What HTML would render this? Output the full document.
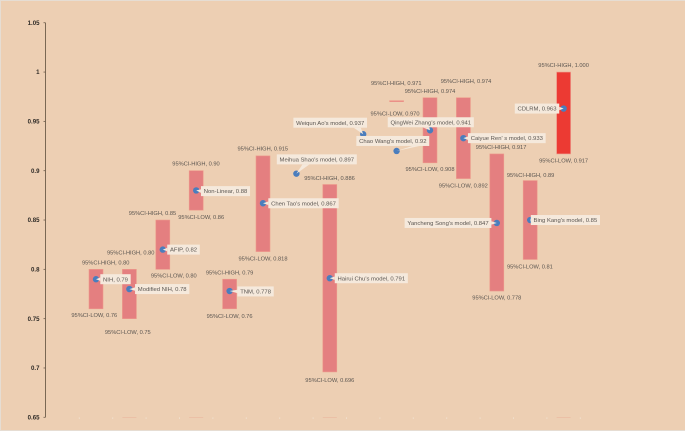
<!DOCTYPE html>
<html lang="en">
<head>
<meta charset="utf-8">
<title>Model performance with 95% CI</title>
<style>
  html, body { margin: 0; padding: 0; background: #edcfb3; }
  body { width: 685px; height: 431px; overflow: hidden; }
  svg { display: block; }
  text { font-family: "Liberation Sans", sans-serif; }
</style>
</head>
<body>
<svg id="chart" width="685" height="431" viewBox="0 0 685 431" xmlns="http://www.w3.org/2000/svg">
  <rect x="0" y="0" width="685" height="431" fill="#edcfb3"/>
  <rect x="0" y="0" width="685" height="1" fill="#e6ddd3"/>
  <rect x="0" y="0" width="1" height="431" fill="#e6ddd3"/>
  <rect x="0" y="430" width="685" height="1" fill="#e6ddd3"/>
</svg>
<script>
// ---- chart data ----
const categories = ["NIH", "Modified NIH", "AFIP", "Non-Linear", "TNM", "Chen Tao's model", "Meihua Shao's model", "Hairui Chu's model", "Weiqun Ao's model", "Chao Wang's model", "QingWei Zhang's model", "Caiyue Ren' s model", "Yancheng Song's model", "Bing Kang's model", "CDLRM"];
const scores = [0.79, 0.78, 0.82, 0.88, 0.778, 0.867, 0.897, 0.791, 0.937, 0.92, 0.941, 0.933, 0.847, 0.85, 0.963];
const ciHigh = [0.80, 0.80, 0.85, 0.90, 0.79, 0.915, null, 0.886, null, 0.971, 0.974, 0.974, 0.917, 0.89, 1.000];
const ciLow = [0.76, 0.75, 0.80, 0.86, 0.76, 0.818, null, 0.696, null, 0.970, 0.908, 0.892, 0.778, 0.81, 0.917];
const scoreDigits = [2, 2, 2, 2, 3, 3, 3, 3, 3, 2, 3, 3, 3, 2, 3];
const ciDigits = [2, 2, 2, 2, 2, 3, 3, 3, 3, 3, 3, 3, 3, 2, 3];
const yTicks = [0.65, 0.7, 0.75, 0.8, 0.85, 0.9, 0.95, 1, 1.05];
const yTickLabels = ["0.65", "0.7", "0.75", "0.8", "0.85", "0.9", "0.95", "1", "1.05"];

// ---- layout (label offsets relative to their marks, not data) ----
const calloutOffsets = {
  "NIH": [19.5, 0, 0], "Modified NIH": [32.8, 0, 0], "AFIP": [20.7, 0, 0], "Non-Linear": [29.3, 0.7, 0],
  "TNM": [26, 0.4, 0], "Chen Tao's model": [40.5, 0, 0], "Meihua Shao's model": [20.4, -14.3, -10.8],
  "Hairui Chu's model": [41.5, 0, 0], "Weiqun Ao's model": [-33, -11.5, 27], "Chao Wang's model": [-3.8, -10, 23],
  "QingWei Zhang's model": [0.8, -8, -5], "Caiyue Ren' s model": [43.4, 0, 0],
  "Yancheng Song's model": [-48.8, 0, 0], "Bing Kang's model": [35.2, 0, 0], "CDLRM": [-26.6, 0, 0]
};
const highLabelOffsets = {
  "NIH": [9.7, -6.6], "Modified NIH": [1.3, -16.6], "AFIP": [-10.3, -7], "Non-Linear": [-0.2, -7],
  "TNM": [0, -6.8], "Chen Tao's model": [-0.2, -7.5], "Hairui Chu's model": [-0.3, -6.5],
  "Chao Wang's model": [-0.3, -17.6], "QingWei Zhang's model": [0, -6.5], "Caiyue Ren' s model": [2.6, -16.8],
  "Yancheng Song's model": [4.3, -6.9], "Bing Kang's model": [0.4, -5.6], "CDLRM": [0, -7.3]
};
const lowLabelOffsets = {
  "NIH": [-1.7, 6.2], "Modified NIH": [-1.6, 13.3], "AFIP": [11, 6.4], "Non-Linear": [5, 6.8],
  "TNM": [0, 7.4], "Chen Tao's model": [0, 6.8], "Hairui Chu's model": [0, 8],
  "Chao Wang's model": [-1.6, 11.7], "QingWei Zhang's model": [0, 6.3], "Caiyue Ren' s model": [-0.1, 6.9],
  "Yancheng Song's model": [0, 6.7], "Bing Kang's model": [-0.3, 6.8], "CDLRM": [0, 6.6]
};
const faintBaseMarks = ["Modified NIH", "Non-Linear", "Hairui Chu's model", "CDLRM"];

// ---- axis functions ----
const svgNS = "http://www.w3.org/2000/svg";
const chart = document.getElementById("chart");
const axisLeft = 45.9, catStep = 33.4, barWidth = 14;
function yScale(v) { return 417.3 - (v - 0.65) * 986.4; }
function xCenter(i) { return axisLeft + (i + 1.5) * catStep; }
function slug(s) { return s.toLowerCase().replace(/[^a-z0-9]+/g, "-").replace(/^-|-$/g, ""); }
function make(tag, attrs) {
  const el = document.createElementNS(svgNS, tag);
  for (const k in attrs) el.setAttribute(k, attrs[k]);
  chart.appendChild(el);
  return el;
}
function label(str, cx, cy, anchor, size, fill, weight) {
  const t = make("text", { x: cx, y: cy + size * 0.35, "text-anchor": anchor, "font-size": size, fill: fill, "font-weight": weight || "normal" });
  t.textContent = str;
  return t;
}

// y axis
const axisLine = make("line", { x1: 45.5, x2: 45.5, y1: yScale(1.05), y2: yScale(0.65), stroke: "#6d5c4a", "stroke-width": 0.9 });


yTicks.forEach(function (v, i) {
  const tick = make("line", { x1: 43.5, x2: 45.5, y1: yScale(v), y2: yScale(v), stroke: "#6d5c4a", "stroke-width": 0.8 });
  
  
  const tl = label(yTickLabels[i], 39.5, yScale(v), "end", 6.1, "#2e2a26", "bold");
  
  
});

// faint category ticks along the base
for (let k = 1; k <= 16; k++) {
  const xt = make("line", { x1: axisLeft + k * catStep, x2: axisLeft + k * catStep, y1: 417.3, y2: 419, stroke: "#f1dfcc", "stroke-width": 0.9 });
  
  
}
faintBaseMarks.forEach(function (name) {
  const i = categories.indexOf(name);
  const m = make("line", { x1: xCenter(i) - barWidth / 2, x2: xCenter(i) + barWidth / 2, y1: 417.4, y2: 417.4, stroke: "#eab9a0", "stroke-width": 0.7 });
  
  
});

// CI bars
categories.forEach(function (name, i) {
  if (ciHigh[i] === null || ciLow[i] === null) return;
  const top = yScale(ciHigh[i]), bottom = yScale(ciLow[i]);
  const isBest = name === "CDLRM";
  const bar = make("rect", {
    x: xCenter(i) - barWidth / 2, y: top, width: barWidth, height: Math.max(bottom - top, 1),
    fill: isBest ? "#ec3a33" : "#e47f80", stroke: "#ee9a8b", "stroke-width": 0.6
  });
  
  
});

// points
categories.forEach(function (name, i) {
  const pt = make("circle", { cx: xCenter(i), cy: yScale(scores[i]), r: 3.2, fill: "#4a7dbd" });
  
  
});

// callouts and CI labels
categories.forEach(function (name, i) {
  const px = xCenter(i), py = yScale(scores[i]);
  const off = calloutOffsets[name];
  const cx = px + off[0], cy = py + off[1];
  const group = make("g", {});
  
  
  const txt = document.createElementNS(svgNS, "text");
  txt.setAttribute("x", cx);
  txt.setAttribute("y", cy + 2.1);
  txt.setAttribute("text-anchor", "middle");
  txt.setAttribute("font-size", 5.9);
  txt.setAttribute("fill", "#5a5550");
  txt.textContent = name + ", " + scores[i].toFixed(scoreDigits[i]);
  
  
  group.appendChild(txt);
  const w = txt.getComputedTextLength() + 5.5, h = 10;
  const x1 = cx - w / 2, x2 = cx + w / 2, y1 = cy - h / 2, y2 = cy + h / 2;
  let pts;
  if (Math.abs(off[1]) < 5) {
    const edge = off[0] > 0 ? x1 : x2;
    pts = [[edge, cy - 1.7], [edge, cy + 1.7], [px, py]];
  } else {
    const bx = cx + off[2];
    pts = [[bx - 3.5, y2], [bx + 3.5, y2], [px, py]];
  }
  const wedge = document.createElementNS(svgNS, "polygon");
  wedge.setAttribute("points", pts.map(function (p) { return p.join(","); }).join(" "));
  wedge.setAttribute("fill", "#f5e9dc");
  
  
  group.insertBefore(wedge, txt);
  const box = document.createElementNS(svgNS, "rect");
  box.setAttribute("x", x1);
  box.setAttribute("y", y1);
  box.setAttribute("width", w);
  box.setAttribute("height", h);
  box.setAttribute("fill", "#f5e9dc");
  
  
  group.insertBefore(box, txt);

  if (ciHigh[i] !== null) {
    const ho = highLabelOffsets[name];
    const hl = label("95%CI-HIGH, " + ciHigh[i].toFixed(ciDigits[i]), px + ho[0], yScale(ciHigh[i]) + ho[1], "middle", 5.7, "#5a5550");
    
    
  }
  if (ciLow[i] !== null) {
    const lo = lowLabelOffsets[name];
    const ll = label("95%CI-LOW, " + ciLow[i].toFixed(ciDigits[i]), px + lo[0], yScale(ciLow[i]) + lo[1], "middle", 5.7, "#5a5550");
    
    
  }
});
</script>
</body>
</html>
